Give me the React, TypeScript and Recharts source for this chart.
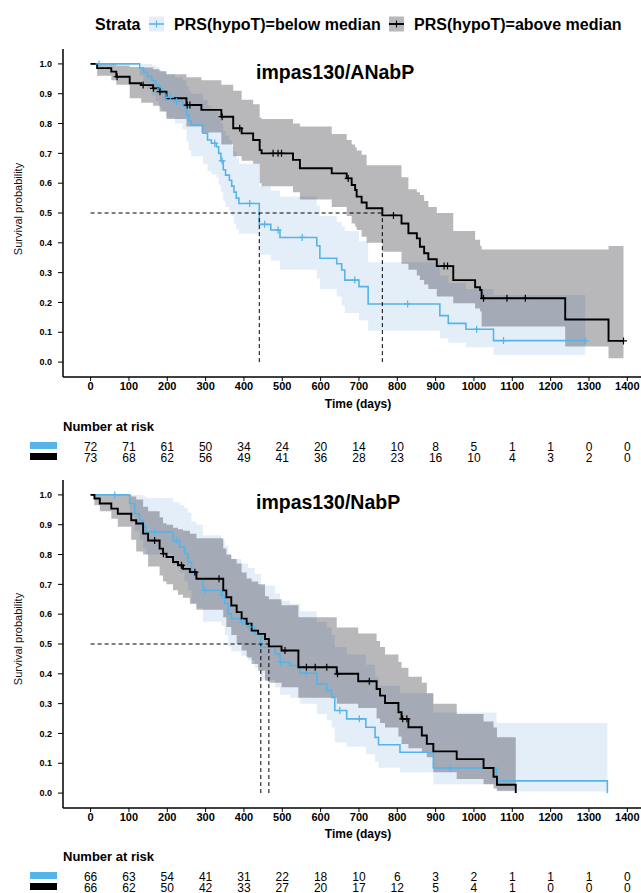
import React from "react";
import { ComposedChart, Line, Area, Scatter, XAxis, YAxis, ReferenceLine } from "recharts";

const FONT = '"Liberation Sans", Arial, Helvetica, sans-serif';
const BLUE = "#56B4E9";
const BLUE_BAND = "#73AAE1";
const GREY_BAND = "#14121C";

const strataLabels = ["PRS(hypoT)=below median", "PRS(hypoT)=above median"];
const panelTitles = ["impas130/ANabP", "impas130/NabP"];

const timeTicks = [0, 100, 200, 300, 400, 500, 600, 700, 800, 900, 1000, 1100, 1200, 1300, 1400];
const survTicks = [0, 0.1, 0.2, 0.3, 0.4, 0.5, 0.6, 0.7, 0.8, 0.9, 1];

// ---- top panel (ANabP) ----
const topBlueT = [0, 128, 138, 148, 160, 170, 178, 186, 196, 220, 240, 250, 256, 262, 293, 305, 315, 328, 334, 340, 346, 352, 362, 368, 374, 380, 387, 440, 470, 494, 590, 598, 642, 655, 663, 700, 724, 911, 933, 979, 1051];
const topBlueS = [1, 0.986, 0.972, 0.958, 0.944, 0.93, 0.916, 0.902, 0.888, 0.874, 0.86, 0.83, 0.81, 0.795, 0.768, 0.745, 0.734, 0.722, 0.7, 0.675, 0.645, 0.627, 0.61, 0.59, 0.57, 0.55, 0.532, 0.462, 0.443, 0.418, 0.39, 0.348, 0.33, 0.309, 0.275, 0.253, 0.195, 0.156, 0.13, 0.11, 0.072];
const topBlueLo = [1, 0.96, 0.935, 0.915, 0.895, 0.875, 0.855, 0.84, 0.82, 0.8, 0.78, 0.74, 0.71, 0.69, 0.665, 0.64, 0.63, 0.62, 0.595, 0.57, 0.54, 0.52, 0.505, 0.49, 0.465, 0.445, 0.43, 0.36, 0.34, 0.31, 0.28, 0.245, 0.22, 0.19, 0.165, 0.14, 0.105, 0.08, 0.065, 0.05, 0.024];
const topBlueHi = [1, 1, 1, 1, 0.995, 0.99, 0.98, 0.975, 0.965, 0.955, 0.945, 0.925, 0.91, 0.9, 0.88, 0.86, 0.85, 0.84, 0.82, 0.8, 0.775, 0.76, 0.745, 0.725, 0.705, 0.685, 0.665, 0.59, 0.575, 0.555, 0.525, 0.49, 0.47, 0.455, 0.44, 0.405, 0.335, 0.29, 0.265, 0.245, 0.225];
const topBlueEnd = 1290;
const topBlueCens = [22, 181, 197, 208, 224, 324, 343, 415, 454, 489, 552, 689, 827, 1007, 1077, 1290];

const topBlackT = [0, 17, 54, 67, 102, 132, 163, 180, 198, 250, 289, 341, 372, 394, 424, 441, 446, 528, 546, 629, 668, 681, 690, 694, 707, 720, 761, 811, 829, 851, 859, 870, 881, 903, 946, 1003, 1016, 1020, 1238, 1351];
const topBlackS = [1, 0.986, 0.974, 0.957, 0.935, 0.929, 0.918, 0.907, 0.885, 0.862, 0.846, 0.823, 0.784, 0.767, 0.745, 0.711, 0.7, 0.678, 0.65, 0.633, 0.616, 0.594, 0.577, 0.555, 0.535, 0.516, 0.492, 0.465, 0.432, 0.415, 0.387, 0.365, 0.345, 0.322, 0.275, 0.251, 0.242, 0.214, 0.143, 0.071];
const topBlackLo = [1, 0.96, 0.945, 0.93, 0.885, 0.87, 0.86, 0.84, 0.815, 0.79, 0.77, 0.73, 0.69, 0.675, 0.665, 0.6, 0.59, 0.57, 0.545, 0.52, 0.49, 0.465, 0.455, 0.443, 0.42, 0.4, 0.37, 0.33, 0.31, 0.29, 0.275, 0.26, 0.245, 0.22, 0.197, 0.18, 0.17, 0.119, 0.052, 0.013];
const topBlackHi = [1, 1, 1, 0.995, 0.99, 0.988, 0.982, 0.975, 0.965, 0.955, 0.945, 0.93, 0.91, 0.88, 0.865, 0.82, 0.815, 0.8, 0.79, 0.765, 0.745, 0.73, 0.72, 0.71, 0.695, 0.66, 0.66, 0.62, 0.58, 0.57, 0.56, 0.54, 0.52, 0.5, 0.44, 0.41, 0.39, 0.378, 0.378, 0.389];
const topBlackEnd = 1390;
const topBlackCens = [69, 137, 164, 181, 252, 259, 343, 389, 476, 489, 498, 672, 790, 922, 931, 1025, 1086, 1134, 1390];

const topMedians = [440, 761];

const topRiskBlue = [72, 71, 61, 50, 34, 24, 20, 14, 10, 8, 5, 1, 1, 0, 0];
const topRiskBlack = [73, 68, 62, 56, 49, 41, 36, 28, 23, 16, 10, 4, 3, 2, 0];

// ---- bottom panel (NabP) ----
const botBlueT = [0, 102, 115, 128, 137, 145, 215, 232, 245, 254, 263, 276, 293, 341, 350, 359, 367, 393, 411, 428, 444, 481, 494, 520, 546, 590, 616, 629, 637, 668, 718, 742, 751, 807, 894, 1059, 1348];
const botBlueS = [1, 0.971, 0.937, 0.915, 0.893, 0.876, 0.847, 0.825, 0.803, 0.775, 0.736, 0.719, 0.68, 0.663, 0.635, 0.601, 0.585, 0.573, 0.557, 0.534, 0.489, 0.467, 0.439, 0.428, 0.402, 0.366, 0.344, 0.321, 0.277, 0.249, 0.221, 0.187, 0.162, 0.137, 0.084, 0.041, 0];
const botBlueLo = [1, 0.93, 0.88, 0.85, 0.82, 0.8, 0.765, 0.74, 0.71, 0.68, 0.635, 0.62, 0.575, 0.56, 0.53, 0.49, 0.475, 0.46, 0.445, 0.42, 0.38, 0.355, 0.33, 0.32, 0.3, 0.265, 0.245, 0.22, 0.17, 0.155, 0.13, 0.105, 0.085, 0.07, 0.03, 0.005, 0.005];
const botBlueHi = [1, 1, 1, 1, 0.995, 0.99, 0.975, 0.965, 0.955, 0.94, 0.91, 0.9, 0.865, 0.85, 0.83, 0.8, 0.785, 0.77, 0.755, 0.735, 0.695, 0.67, 0.645, 0.635, 0.61, 0.575, 0.555, 0.53, 0.49, 0.465, 0.43, 0.39, 0.36, 0.335, 0.27, 0.235, 0.235];
const botBlueCens = [63, 167, 224, 299, 343, 396, 415, 496, 562, 650, 701, 938];

const botBlackT = [0, 10, 24, 54, 71, 106, 119, 137, 150, 180, 189, 198, 215, 228, 241, 259, 276, 346, 354, 367, 381, 394, 407, 420, 437, 455, 465, 498, 542, 642, 698, 746, 755, 768, 803, 811, 829, 864, 877, 894, 955, 1025, 1051, 1060, 1109];
const botBlackS = [1, 0.988, 0.971, 0.954, 0.937, 0.915, 0.904, 0.87, 0.847, 0.82, 0.803, 0.792, 0.775, 0.764, 0.752, 0.741, 0.719, 0.68, 0.657, 0.629, 0.607, 0.585, 0.568, 0.545, 0.534, 0.517, 0.492, 0.478, 0.422, 0.4, 0.375, 0.349, 0.327, 0.302, 0.271, 0.249, 0.221, 0.193, 0.165, 0.14, 0.114, 0.084, 0.055, 0.028, 0];
const botBlackLo = [1, 0.965, 0.945, 0.92, 0.893, 0.85, 0.81, 0.8, 0.76, 0.73, 0.71, 0.7, 0.68, 0.665, 0.655, 0.635, 0.615, 0.59, 0.557, 0.53, 0.5, 0.478, 0.455, 0.433, 0.41, 0.377, 0.37, 0.355, 0.32, 0.3, 0.285, 0.25, 0.235, 0.22, 0.19, 0.165, 0.15, 0.135, 0.12, 0.07, 0.047, 0.03, 0.015, 0.008, 0.008];
const botBlackHi = [1, 1, 1, 1, 1, 0.995, 0.985, 0.96, 0.945, 0.925, 0.905, 0.9, 0.89, 0.885, 0.88, 0.87, 0.855, 0.82, 0.8, 0.785, 0.77, 0.74, 0.72, 0.71, 0.7, 0.66, 0.65, 0.63, 0.59, 0.555, 0.535, 0.51, 0.49, 0.465, 0.44, 0.42, 0.39, 0.37, 0.335, 0.3, 0.265, 0.24, 0.22, 0.187, 0.187];
const botBlackCens = [167, 190, 237, 272, 335, 507, 563, 586, 616, 644, 727, 814, 825];

const botMedians = [444, 465];

const botRiskBlue = [66, 63, 54, 41, 31, 22, 18, 10, 6, 3, 2, 1, 1, 1, 0];
const botRiskBlack = [66, 62, 50, 42, 33, 27, 20, 17, 12, 5, 4, 1, 0, 0, 0];

type Pt = { t: number; s: number; band: [number, number] };

function buildCurve(T: number[], S: number[], Lo: number[], Hi: number[], end?: number): Pt[] {
  const pts: Pt[] = T.map((t, i) => ({ t, s: S[i], band: [Lo[i], Hi[i]] }));
  if (end !== undefined) {
    const last = pts[pts.length - 1];
    pts.push({ t: end, s: last.s, band: last.band });
  }
  return pts;
}

function stepAt(T: number[], S: number[], t: number) {
  let v = S[0];
  for (let i = 0; i < T.length; i++) if (T[i] <= t) v = S[i];
  return v;
}

const cens = (T: number[], S: number[], times: number[]) => times.map((t) => ({ t, s: stepAt(T, S, t) }));

const risk = (counts: number[], row: number) => timeTicks.map((t, i) => ({ t, row, n: counts[i] }));

const plusShape = (color: string) => (props: any) => {
  const { cx, cy } = props;
  if (cx == null || cy == null) return <g />;
  return (
    <path
      d={`M${cx - 3.5},${cy}H${cx + 3.5}M${cx},${cy - 3.5}V${cy + 3.5}`}
      stroke={color}
      strokeWidth={1.2}
      fill="none"
    />
  );
};

const riskText = (props: any) => {
  const { cx, cy, payload } = props;
  return (
    <text x={cx} y={cy} textAnchor="middle" dominantBaseline="central" fontSize={12} fontFamily={FONT} fill="#000">
      {payload.n}
    </text>
  );
};

const X_DOMAIN: [number, number] = [-72, 1467];
const CHART_W = 670;

type PanelProps = {
  blue: Pt[];
  black: Pt[];
  blueCens: { t: number; s: number }[];
  blackCens: { t: number; s: number }[];
  medians: number[];
};

function KMPanel({ blue, black, blueCens, blackCens, medians }: PanelProps) {
  const dash = { stroke: "#000", strokeDasharray: "4 3", strokeWidth: 1 };
  return (
    <ComposedChart width={CHART_W} height={410} margin={{ top: 49, right: 17, bottom: 0, left: 18 }}>
      <XAxis
        dataKey="t"
        type="number"
        domain={X_DOMAIN}
        ticks={timeTicks}
        interval={0}
        allowDataOverflow
        height={33}
        tickSize={4}
        tickMargin={1}
        axisLine={{ stroke: "#000", strokeWidth: 1.5 }}
        tickLine={{ stroke: "#000", strokeWidth: 1 }}
        tick={{ fontSize: 11, fontWeight: 700, fill: "#000", fontFamily: FONT }}
      />
      <YAxis
        type="number"
        domain={[-0.05, 1.05]}
        ticks={survTicks}
        interval={0}
        allowDataOverflow
        width={45}
        tickSize={5}
        tickMargin={6}
        tickFormatter={(v: number) => v.toFixed(1)}
        axisLine={{ stroke: "#000", strokeWidth: 1.5 }}
        tickLine={{ stroke: "#000", strokeWidth: 1 }}
        tick={{ fontSize: 9, fontWeight: 700, fill: "#000", fontFamily: FONT }}
      />
      <Line data={blue} dataKey="s" type="stepAfter" stroke={BLUE} strokeWidth={1.6} dot={false} activeDot={false} isAnimationActive={false} />
      <Line data={black} dataKey="s" type="stepAfter" stroke="#000" strokeWidth={1.9} dot={false} activeDot={false} isAnimationActive={false} />
      <Area data={blue} dataKey="band" type="stepAfter" stroke="none" fill={BLUE_BAND} fillOpacity={0.2} isAnimationActive={false} />
      <Area data={black} dataKey="band" type="stepAfter" stroke="none" fill={GREY_BAND} fillOpacity={0.3} isAnimationActive={false} />
      <Scatter data={blueCens} dataKey="s" shape={plusShape(BLUE)} isAnimationActive={false} />
      <Scatter data={blackCens} dataKey="s" shape={plusShape("#000")} isAnimationActive={false} />
      <ReferenceLine segment={[{ x: 0, y: 0.5 }, { x: Math.max(...medians), y: 0.5 }]} {...dash} />
      {medians.map((m) => (
        <ReferenceLine key={m} segment={[{ x: m, y: 0 }, { x: m, y: 0.5 }]} {...dash} />
      ))}
    </ComposedChart>
  );
}

function RiskRows({ blueN, blackN }: { blueN: number[]; blackN: number[] }) {
  return (
    <ComposedChart width={CHART_W} height={22} margin={{ top: 0, right: 17, bottom: 0, left: 63 }}>
      <XAxis dataKey="t" type="number" domain={X_DOMAIN} allowDataOverflow hide />
      <YAxis type="number" domain={[-0.5, 1.5]} allowDataOverflow hide />
      <Scatter data={risk(blueN, 1)} dataKey="row" shape={riskText} isAnimationActive={false} />
      <Scatter data={risk(blackN, 0)} dataKey="row" shape={riskText} isAnimationActive={false} />
    </ComposedChart>
  );
}

function PanelText({ dy, title }: { dy: number; title: string }) {
  return (
    <g>
      <text x={256} y={78.5 + dy} fontSize={19.5} fontWeight={700} fontFamily={FONT} fill="#000">
        {title}
      </text>
      <text x={21.5} y={209 + dy} transform={`rotate(-90 21.5 ${209 + dy})`} textAnchor="middle" fontSize={11} fontFamily={FONT} fill="#111">
        Survival probability
      </text>
      <text x={358} y={408 + dy} textAnchor="middle" fontSize={12} fontWeight={700} fontFamily={FONT} fill="#000">
        Time (days)
      </text>
      <text x={63} y={430.5 + dy} fontSize={13} fontWeight={700} fontFamily={FONT} fill="#000">
        Number at risk
      </text>
      <rect x={30} y={442 + dy} width={27} height={7} fill={BLUE} />
      <rect x={30} y={453 + dy} width={27} height={7} fill="#000" />
    </g>
  );
}

export default function App() {
  const topBlue = buildCurve(topBlueT, topBlueS, topBlueLo, topBlueHi, topBlueEnd);
  const topBlack = buildCurve(topBlackT, topBlackS, topBlackLo, topBlackHi, topBlackEnd);
  const botBlue = buildCurve(botBlueT, botBlueS, botBlueLo, botBlueHi);
  const botBlack = buildCurve(botBlackT, botBlackS, botBlackLo, botBlackHi);

  const abs = (top: number): React.CSSProperties => ({ position: "absolute", left: 0, top });

  return (
    <div style={{ position: "absolute", left: 0, top: 0, width: 641, height: 893, overflow: "hidden", background: "#fff", fontFamily: FONT }}>
      <div style={abs(0)}>
        <KMPanel
          blue={topBlue}
          black={topBlack}
          blueCens={cens(topBlueT, topBlueS, topBlueCens)}
          blackCens={cens(topBlackT, topBlackS, topBlackCens)}
          medians={topMedians}
        />
      </div>
      <div style={abs(441)}>
        <RiskRows blueN={topRiskBlue} blackN={topRiskBlack} />
      </div>
      <div style={abs(431)}>
        <KMPanel
          blue={botBlue}
          black={botBlack}
          blueCens={cens(botBlueT, botBlueS, botBlueCens)}
          blackCens={cens(botBlackT, botBlackS, botBlackCens)}
          medians={botMedians}
        />
      </div>
      <div style={abs(871)}>
        <RiskRows blueN={botRiskBlue} blackN={botRiskBlack} />
      </div>
      <svg width={641} height={893} style={{ position: "absolute", left: 0, top: 0, pointerEvents: "none" }}>
        <text x={95} y={30} fontSize={16} fontWeight={700} fontFamily={FONT} fill="#000">
          Strata
        </text>
        <rect x={149} y={16.5} width={15} height={15} fill="#E3EEF9" />
        <line x1={149} x2={164} y1={24} y2={24} stroke={BLUE} strokeWidth={1.6} />
        <line x1={156.5} x2={156.5} y1={20.5} y2={27.5} stroke={BLUE} strokeWidth={1.2} />
        <text x={174} y={30} fontSize={16} fontWeight={700} fontFamily={FONT} fill="#000">
          {strataLabels[0]}
        </text>
        <rect x={389} y={16.5} width={15} height={15} fill="#B8B7BB" />
        <line x1={389} x2={404} y1={24} y2={24} stroke="#000" strokeWidth={1.9} />
        <line x1={396.5} x2={396.5} y1={20.5} y2={27.5} stroke="#000" strokeWidth={1.2} />
        <text x={414} y={30} fontSize={16} fontWeight={700} fontFamily={FONT} fill="#000">
          {strataLabels[1]}
        </text>
        <PanelText dy={0} title={panelTitles[0]} />
        <PanelText dy={430} title={panelTitles[1]} />
      </svg>
    </div>
  );
}
